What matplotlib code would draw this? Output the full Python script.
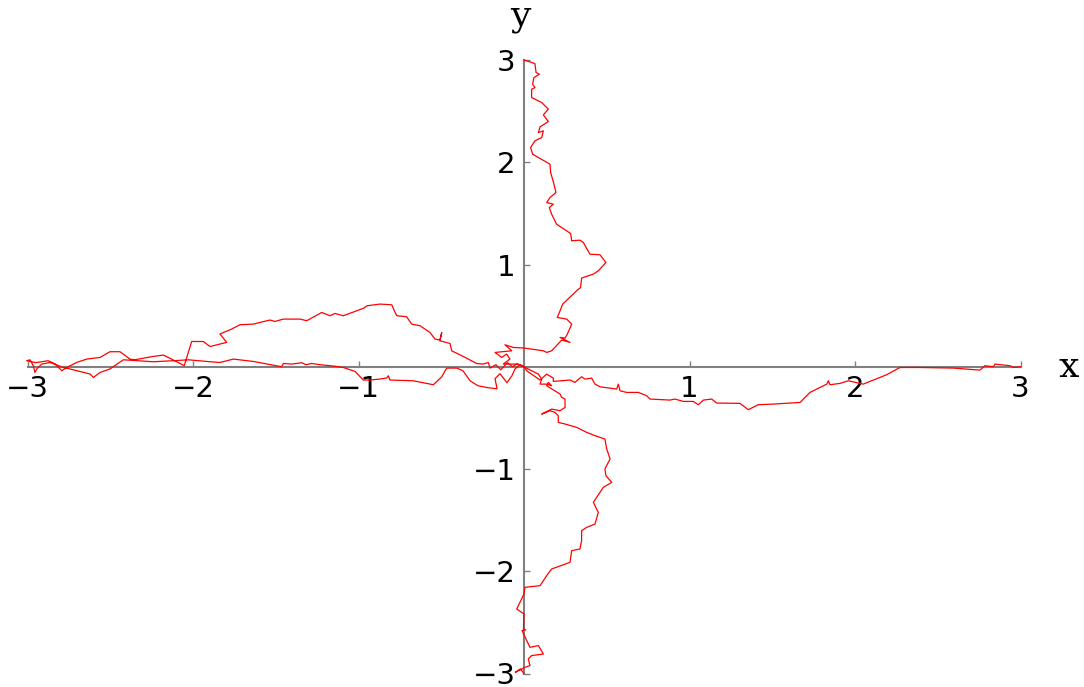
import matplotlib
matplotlib.use("Agg")
import matplotlib.pyplot as plt

# four walks leaving the origin
up_x = [0, -0.044, -0.125, -0.085, -0.105, -0.135, -0.175, -0.074, -0.115, -0.065,
        0.0, 0.117, 0.137, 0.167, 0.228, 0.278, 0.218, 0.248, 0.262, 0.288,
        0.258, 0.201, 0.218, 0.234, 0.318, 0.342, 0.348, 0.419, 0.449, 0.495,
        0.459, 0.399, 0.375, 0.359, 0.338, 0.288, 0.282, 0.197, 0.167, 0.153,
        0.177, 0.137, 0.157, 0.193, 0.181, 0.161, 0.157, 0.052, 0.04, 0.066,
        0.107, 0.117, 0.087, 0.097, 0.147, 0.117, 0.147, 0.107, 0.046, 0.046,
        0.066, 0.052, 0.06, 0.093, 0.073, 0.066, 0.0]
up_y = [0, 0.026, 0.026, 0.075, 0.124, 0.091, 0.14, 0.156, 0.215, 0.189,
        0.183, 0.156, 0.14, 0.156, 0.261, 0.238, 0.287, 0.28, 0.319, 0.417,
        0.466, 0.482, 0.547, 0.613, 0.743, 0.775, 0.867, 0.906, 0.938, 1.02,
        1.095, 1.101, 1.166, 1.215, 1.238, 1.232, 1.303, 1.394, 1.492, 1.557,
        1.59, 1.606, 1.655, 1.704, 1.786, 1.9, 1.981, 2.079, 2.144, 2.209,
        2.242, 2.307, 2.29, 2.346, 2.398, 2.463, 2.519, 2.584, 2.633, 2.714,
        2.73, 2.763, 2.828, 2.861, 2.877, 2.965, 3.0]

down_x = [0, 0.026, 0.087, 0.107, 0.097, 0.137, 0.167, 0.147, 0.137, 0.218,
          0.228, 0.248, 0.248, 0.218, 0.167, 0.107, 0.157, 0.187, 0.207, 0.207,
          0.248, 0.318, 0.379, 0.429, 0.489, 0.5, 0.52, 0.489, 0.495, 0.53,
          0.479, 0.419, 0.449, 0.429, 0.379, 0.348, 0.348, 0.338, 0.288, 0.278,
          0.167, 0.137, 0.097, 0.006, 0.0, -0.044, 0.0, -0.003, 0.01, -0.012,
          0.036, 0.087, 0.117, 0.046, 0.026, 0.036, 0.006, -0.052, -0.022, 0.0]
down_y = [0, -0.023, -0.072, -0.121, -0.17, -0.17, -0.186, -0.153, -0.186, -0.267,
          -0.3, -0.316, -0.398, -0.43, -0.414, -0.463, -0.43, -0.446, -0.479, -0.544,
          -0.56, -0.593, -0.642, -0.674, -0.707, -0.805, -0.902, -1.0, -1.066, -1.131,
          -1.18, -1.326, -1.424, -1.538, -1.571, -1.603, -1.701, -1.782, -1.799, -1.913,
          -1.978, -2.043, -2.141, -2.157, -2.222, -2.369, -2.418, -2.564, -2.574, -2.58,
          -2.744, -2.727, -2.809, -2.825, -2.858, -2.923, -2.94, -2.988, -2.955, -3.0]

right_x = [0, 0.016, 0.097, 0.137, 0.177, 0.177, 0.278, 0.308, 0.348, 0.369,
           0.409, 0.429, 0.459, 0.56, 0.57, 0.58, 0.62, 0.691, 0.741, 0.761,
           0.882, 0.912, 0.963, 1.023, 1.053, 1.084, 1.134, 1.164, 1.305, 1.355,
           1.416, 1.506, 1.668, 1.728, 1.829, 1.839, 1.849, 1.909, 1.96, 2.05,
           2.191, 2.272, 2.393, 2.594, 2.755, 2.785, 2.836, 2.846, 2.937, 2.957, 3.0]
right_y = [0, -0.039, -0.13, -0.072, -0.111, -0.143, -0.13, -0.153, -0.098, -0.121,
           -0.111, -0.17, -0.196, -0.218, -0.17, -0.235, -0.251, -0.251, -0.283, -0.316,
           -0.326, -0.316, -0.339, -0.339, -0.371, -0.326, -0.316, -0.355, -0.358, -0.42,
           -0.371, -0.365, -0.349, -0.251, -0.17, -0.137, -0.176, -0.163, -0.137, -0.17,
           -0.078, -0.007, -0.007, -0.013, -0.033, 0.01, 0.0, 0.026, 0.01, -0.007, 0.0]

left_x = [0, -0.024, -0.054, -0.073, -0.103, -0.145, -0.175, -0.163, -0.218, -0.278,
          -0.326, -0.369, -0.407, -0.467, -0.497, -0.548, -0.669, -0.81, -0.82, -0.83,
          -0.87, -0.931, -0.971, -1.021, -1.092, -1.152, -1.233, -1.283, -1.317, -1.343,
          -1.404, -1.454, -1.464, -1.636, -1.756, -1.837, -1.897, -2.028, -2.119, -2.24,
          -2.421, -2.502, -2.562, -2.602, -2.622, -2.743, -2.784, -2.864, -2.914, -2.944,
          -2.955, -2.965, -2.985, -3.005, -2.95, -2.876, -2.834, -2.793, -2.763, -2.703,
          -2.642, -2.562, -2.502, -2.441, -2.381, -2.352, -2.24, -2.179, -2.129, -2.053,
          -2.008, -1.938, -1.897, -1.837, -1.796, -1.837, -1.766, -1.716, -1.636, -1.535,
          -1.505, -1.454, -1.353, -1.313, -1.222, -1.172, -1.142, -1.092, -1.011, -0.967,
          -0.95, -0.87, -0.799, -0.779, -0.769, -0.709, -0.679, -0.628, -0.568, -0.538,
          -0.508, -0.497, -0.508, -0.447, -0.437, -0.387, -0.337, -0.286, -0.246, -0.216,
          -0.205, -0.17, -0.14, -0.1, -0.07, -0.04, 0.0]
left_y = [0, 0.02, -0.02, -0.088, -0.156, -0.068, -0.117, -0.215, -0.205, -0.186,
          -0.137, -0.039, -0.013, -0.013, -0.098, -0.176, -0.137, -0.13, -0.088, -0.11,
          -0.12, -0.13, -0.13, -0.046, -0.007, 0.007, 0.02, 0.032, 0.02, 0.039,
          0.026, 0.032, 0.0, 0.052, 0.075, 0.042, 0.049, 0.068, 0.059, 0.049,
          0.068, -0.022, -0.056, -0.105, -0.071, -0.022, -0.007, 0.042, 0.026, -0.022,
          -0.056, 0.01, 0.068, 0.059, 0.04, 0.059, 0.029, -0.039, -0.007, 0.042,
          0.075, 0.091, 0.147, 0.147, 0.075, 0.068, 0.101, 0.114, 0.075, 0.01,
          0.247, 0.247, 0.198, 0.222, 0.238, 0.32, 0.369, 0.411, 0.417, 0.457,
          0.443, 0.466, 0.466, 0.45, 0.531, 0.499, 0.521, 0.499, 0.547, 0.574,
          0.596, 0.613, 0.606, 0.531, 0.499, 0.489, 0.417, 0.401, 0.335, 0.271,
          0.261, 0.335, 0.254, 0.228, 0.156, 0.117, 0.075, 0.032, 0.026, 0.042,
          -0.013, 0.02, -0.03, 0.04, 0.0, 0.03, 0.0]

ticks = [-3, -2, -1, 1, 2, 3]

fig = plt.figure(figsize=(10.84, 6.87), dpi=100)
ax = fig.add_axes([27.5 / 1084, 13.5 / 687, 993 / 1084, 613.5 / 687])

for xs, ys in [(left_x, left_y), (right_x, right_y), (up_x, up_y), (down_x, down_y)]:
    ax.plot(xs, ys, color='red', lw=0.9, clip_on=False, zorder=3)

ax.set_xlim(-3, 3)
ax.set_ylim(-3, 3)

# mathematica style axes through the origin
for side in ['top', 'right']:
    ax.spines[side].set_visible(False)
for side in ['left', 'bottom']:
    ax.spines[side].set_position('zero')
    ax.spines[side].set_color('#808080')
    ax.spines[side].set_linewidth(1.5)

ax.set_xticks(ticks)
ax.set_yticks(ticks)
ax.tick_params(direction='in', length=4, width=1, color='#808080',
               labelsize=21, labelcolor='black')
ax.tick_params(axis='x', pad=6)
ax.tick_params(axis='y', pad=6)

# axis names in a courier-like serif face
ax.text(3.29, 0, 'x', fontsize=26, family='DejaVu Serif',
        ha='center', va='center', clip_on=False)
ax.text(-0.02, 3.43, 'y', fontsize=26, family='DejaVu Serif',
        ha='center', va='center', clip_on=False)

fig.savefig('out.png', dpi=100)
